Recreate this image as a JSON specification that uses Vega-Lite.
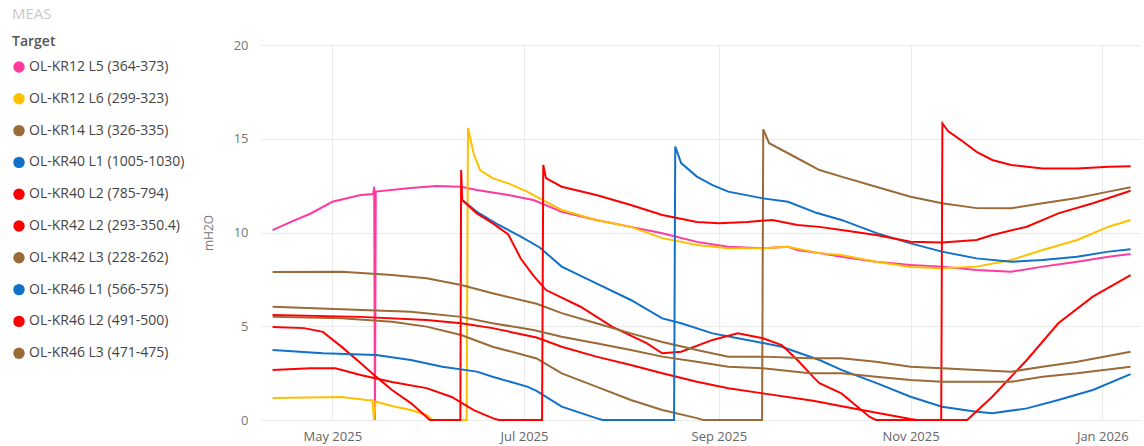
{
"$schema": "https://vega.github.io/schema/vega-lite/v6.json",
"width": 880, "height": 375,
"autosize": "none",
"padding": {"left": 260, "top": 45, "right": 4, "bottom": 26},
"background": "white",
"title": {"text": "MEAS", "anchor": "start", "frame": "group", "dx": -248, "offset": 13, "fontSize": 15, "fontWeight": "normal", "color": "#c8c8c8", "font": "Open Sans"},
"config": {"view": {"stroke": null}, "font": "Open Sans"},
"data": {"values": [
{"s":"OL-KR12 L5 (364-373)","t":"2025-04-12","v":10.13},
{"s":"OL-KR12 L5 (364-373)","t":"2025-04-18","v":10.58},
{"s":"OL-KR12 L5 (364-373)","t":"2025-04-24","v":11.0},
{"s":"OL-KR12 L5 (364-373)","t":"2025-05-01","v":11.64},
{"s":"OL-KR12 L5 (364-373)","t":"2025-05-10","v":12.0},
{"s":"OL-KR12 L5 (364-373)","t":"2025-05-14T00:00:00Z","v":12.05},
{"s":"OL-KR12 L5 (364-373)","t":"2025-05-14T08:00:00Z","v":12.44},
{"s":"OL-KR12 L5 (364-373)","t":"2025-05-14T14:00:00Z","v":0},
{"s":"OL-KR12 L5 (364-373)","t":"2025-05-14T20:00:00Z","v":12.18},
{"s":"OL-KR12 L5 (364-373)","t":"2025-05-26","v":12.37},
{"s":"OL-KR12 L5 (364-373)","t":"2025-06-03","v":12.48},
{"s":"OL-KR12 L5 (364-373)","t":"2025-06-11","v":12.44},
{"s":"OL-KR12 L5 (364-373)","t":"2025-06-16","v":12.27},
{"s":"OL-KR12 L5 (364-373)","t":"2025-06-26","v":12.0},
{"s":"OL-KR12 L5 (364-373)","t":"2025-07-04","v":11.73},
{"s":"OL-KR12 L5 (364-373)","t":"2025-07-13","v":11.1},
{"s":"OL-KR12 L5 (364-373)","t":"2025-07-24","v":10.67},
{"s":"OL-KR12 L5 (364-373)","t":"2025-08-04","v":10.3},
{"s":"OL-KR12 L5 (364-373)","t":"2025-08-14","v":9.96},
{"s":"OL-KR12 L5 (364-373)","t":"2025-08-25","v":9.5},
{"s":"OL-KR12 L5 (364-373)","t":"2025-09-04","v":9.24},
{"s":"OL-KR12 L5 (364-373)","t":"2025-09-15","v":9.16},
{"s":"OL-KR12 L5 (364-373)","t":"2025-09-23","v":9.24},
{"s":"OL-KR12 L5 (364-373)","t":"2025-09-26","v":9.07},
{"s":"OL-KR12 L5 (364-373)","t":"2025-10-03","v":8.9},
{"s":"OL-KR12 L5 (364-373)","t":"2025-10-10","v":8.71},
{"s":"OL-KR12 L5 (364-373)","t":"2025-10-21","v":8.44},
{"s":"OL-KR12 L5 (364-373)","t":"2025-11-01","v":8.27},
{"s":"OL-KR12 L5 (364-373)","t":"2025-11-11","v":8.18},
{"s":"OL-KR12 L5 (364-373)","t":"2025-11-22","v":8.0},
{"s":"OL-KR12 L5 (364-373)","t":"2025-12-03","v":7.91},
{"s":"OL-KR12 L5 (364-373)","t":"2025-12-13","v":8.18},
{"s":"OL-KR12 L5 (364-373)","t":"2025-12-24","v":8.44},
{"s":"OL-KR12 L5 (364-373)","t":"2026-01-03","v":8.71},
{"s":"OL-KR12 L5 (364-373)","t":"2026-01-10","v":8.85},

{"s":"OL-KR12 L6 (299-323)","t":"2025-04-12","v":1.17},
{"s":"OL-KR12 L6 (299-323)","t":"2025-05-04","v":1.23},
{"s":"OL-KR12 L6 (299-323)","t":"2025-05-12","v":1.07},
{"s":"OL-KR12 L6 (299-323)","t":"2025-05-13T18:00:00Z","v":1.05},
{"s":"OL-KR12 L6 (299-323)","t":"2025-05-14T08:00:00Z","v":0},
{"s":"OL-KR12 L6 (299-323)","t":"2025-05-14T18:00:00Z","v":0.98},
{"s":"OL-KR12 L6 (299-323)","t":"2025-05-20","v":0.75},
{"s":"OL-KR12 L6 (299-323)","t":"2025-05-26","v":0.53},
{"s":"OL-KR12 L6 (299-323)","t":"2025-05-31","v":0.27},
{"s":"OL-KR12 L6 (299-323)","t":"2025-06-02","v":0},
{"s":"OL-KR12 L6 (299-323)","t":"2025-06-12T18:00:00Z","v":0},
{"s":"OL-KR12 L6 (299-323)","t":"2025-06-13T04:00:00Z","v":15.57},
{"s":"OL-KR12 L6 (299-323)","t":"2025-06-15","v":14.2},
{"s":"OL-KR12 L6 (299-323)","t":"2025-06-17","v":13.33},
{"s":"OL-KR12 L6 (299-323)","t":"2025-06-21","v":12.9},
{"s":"OL-KR12 L6 (299-323)","t":"2025-06-26","v":12.62},
{"s":"OL-KR12 L6 (299-323)","t":"2025-07-02","v":12.18},
{"s":"OL-KR12 L6 (299-323)","t":"2025-07-07","v":11.73},
{"s":"OL-KR12 L6 (299-323)","t":"2025-07-13","v":11.2},
{"s":"OL-KR12 L6 (299-323)","t":"2025-07-24","v":10.67},
{"s":"OL-KR12 L6 (299-323)","t":"2025-08-04","v":10.3},
{"s":"OL-KR12 L6 (299-323)","t":"2025-08-14","v":9.7},
{"s":"OL-KR12 L6 (299-323)","t":"2025-08-25","v":9.33},
{"s":"OL-KR12 L6 (299-323)","t":"2025-09-04","v":9.16},
{"s":"OL-KR12 L6 (299-323)","t":"2025-09-15","v":9.16},
{"s":"OL-KR12 L6 (299-323)","t":"2025-09-23","v":9.24},
{"s":"OL-KR12 L6 (299-323)","t":"2025-10-03","v":8.9},
{"s":"OL-KR12 L6 (299-323)","t":"2025-10-10","v":8.8},
{"s":"OL-KR12 L6 (299-323)","t":"2025-10-21","v":8.44},
{"s":"OL-KR12 L6 (299-323)","t":"2025-11-01","v":8.16},
{"s":"OL-KR12 L6 (299-323)","t":"2025-11-11","v":8.09},
{"s":"OL-KR12 L6 (299-323)","t":"2025-11-22","v":8.18},
{"s":"OL-KR12 L6 (299-323)","t":"2025-12-03","v":8.53},
{"s":"OL-KR12 L6 (299-323)","t":"2025-12-13","v":9.07},
{"s":"OL-KR12 L6 (299-323)","t":"2025-12-24","v":9.6},
{"s":"OL-KR12 L6 (299-323)","t":"2026-01-03","v":10.31},
{"s":"OL-KR12 L6 (299-323)","t":"2026-01-10","v":10.67},

{"s":"OL-KR14 L3 (326-335)","t":"2025-04-12","v":5.5},
{"s":"OL-KR14 L3 (326-335)","t":"2025-05-04","v":5.43},
{"s":"OL-KR14 L3 (326-335)","t":"2025-05-20","v":5.24},
{"s":"OL-KR14 L3 (326-335)","t":"2025-05-31","v":4.98},
{"s":"OL-KR14 L3 (326-335)","t":"2025-06-11","v":4.53},
{"s":"OL-KR14 L3 (326-335)","t":"2025-06-21","v":3.91},
{"s":"OL-KR14 L3 (326-335)","t":"2025-07-05","v":3.28},
{"s":"OL-KR14 L3 (326-335)","t":"2025-07-13","v":2.49},
{"s":"OL-KR14 L3 (326-335)","t":"2025-07-24","v":1.78},
{"s":"OL-KR14 L3 (326-335)","t":"2025-08-04","v":1.07},
{"s":"OL-KR14 L3 (326-335)","t":"2025-08-14","v":0.53},
{"s":"OL-KR14 L3 (326-335)","t":"2025-08-25","v":0.1},
{"s":"OL-KR14 L3 (326-335)","t":"2025-08-27","v":0},
{"s":"OL-KR14 L3 (326-335)","t":"2025-09-14T18:00:00Z","v":0},
{"s":"OL-KR14 L3 (326-335)","t":"2025-09-15T03:00:00Z","v":15.5},
{"s":"OL-KR14 L3 (326-335)","t":"2025-09-17","v":14.76},
{"s":"OL-KR14 L3 (326-335)","t":"2025-09-26","v":13.96},
{"s":"OL-KR14 L3 (326-335)","t":"2025-10-03","v":13.33},
{"s":"OL-KR14 L3 (326-335)","t":"2025-10-10","v":12.98},
{"s":"OL-KR14 L3 (326-335)","t":"2025-10-21","v":12.44},
{"s":"OL-KR14 L3 (326-335)","t":"2025-11-01","v":11.91},
{"s":"OL-KR14 L3 (326-335)","t":"2025-11-11","v":11.56},
{"s":"OL-KR14 L3 (326-335)","t":"2025-11-22","v":11.3},
{"s":"OL-KR14 L3 (326-335)","t":"2025-12-03","v":11.29},
{"s":"OL-KR14 L3 (326-335)","t":"2025-12-13","v":11.56},
{"s":"OL-KR14 L3 (326-335)","t":"2025-12-24","v":11.84},
{"s":"OL-KR14 L3 (326-335)","t":"2026-01-03","v":12.18},
{"s":"OL-KR14 L3 (326-335)","t":"2026-01-10","v":12.41},

{"s":"OL-KR40 L1 (1005-1030)","t":"2025-06-11T08:00:00Z","v":11.73},
{"s":"OL-KR40 L1 (1005-1030)","t":"2025-06-16","v":11.1},
{"s":"OL-KR40 L1 (1005-1030)","t":"2025-06-23","v":10.4},
{"s":"OL-KR40 L1 (1005-1030)","t":"2025-06-30","v":9.78},
{"s":"OL-KR40 L1 (1005-1030)","t":"2025-07-06","v":9.2},
{"s":"OL-KR40 L1 (1005-1030)","t":"2025-07-13","v":8.18},
{"s":"OL-KR40 L1 (1005-1030)","t":"2025-07-24","v":7.29},
{"s":"OL-KR40 L1 (1005-1030)","t":"2025-08-04","v":6.4},
{"s":"OL-KR40 L1 (1005-1030)","t":"2025-08-14","v":5.42},
{"s":"OL-KR40 L1 (1005-1030)","t":"2025-08-20","v":5.16},
{"s":"OL-KR40 L1 (1005-1030)","t":"2025-08-30","v":4.62},
{"s":"OL-KR40 L1 (1005-1030)","t":"2025-09-10","v":4.27},
{"s":"OL-KR40 L1 (1005-1030)","t":"2025-09-21","v":3.91},
{"s":"OL-KR40 L1 (1005-1030)","t":"2025-10-03","v":3.2},
{"s":"OL-KR40 L1 (1005-1030)","t":"2025-10-10","v":2.67},
{"s":"OL-KR40 L1 (1005-1030)","t":"2025-10-21","v":1.98},
{"s":"OL-KR40 L1 (1005-1030)","t":"2025-11-01","v":1.24},
{"s":"OL-KR40 L1 (1005-1030)","t":"2025-11-11","v":0.71},
{"s":"OL-KR40 L1 (1005-1030)","t":"2025-11-22","v":0.44},
{"s":"OL-KR40 L1 (1005-1030)","t":"2025-11-27","v":0.36},
{"s":"OL-KR40 L1 (1005-1030)","t":"2025-12-08","v":0.62},
{"s":"OL-KR40 L1 (1005-1030)","t":"2025-12-18","v":1.07},
{"s":"OL-KR40 L1 (1005-1030)","t":"2025-12-29","v":1.6},
{"s":"OL-KR40 L1 (1005-1030)","t":"2026-01-10","v":2.45},

{"s":"OL-KR40 L2 (785-794)","t":"2025-04-12","v":5.6},
{"s":"OL-KR40 L2 (785-794)","t":"2025-05-10","v":5.5},
{"s":"OL-KR40 L2 (785-794)","t":"2025-05-31","v":5.33},
{"s":"OL-KR40 L2 (785-794)","t":"2025-06-11","v":5.16},
{"s":"OL-KR40 L2 (785-794)","t":"2025-06-21","v":4.9},
{"s":"OL-KR40 L2 (785-794)","t":"2025-07-05","v":4.4},
{"s":"OL-KR40 L2 (785-794)","t":"2025-07-13","v":3.91},
{"s":"OL-KR40 L2 (785-794)","t":"2025-07-24","v":3.38},
{"s":"OL-KR40 L2 (785-794)","t":"2025-08-04","v":2.93},
{"s":"OL-KR40 L2 (785-794)","t":"2025-08-14","v":2.49},
{"s":"OL-KR40 L2 (785-794)","t":"2025-08-25","v":2.04},
{"s":"OL-KR40 L2 (785-794)","t":"2025-09-04","v":1.69},
{"s":"OL-KR40 L2 (785-794)","t":"2025-09-15","v":1.42},
{"s":"OL-KR40 L2 (785-794)","t":"2025-10-01","v":1.03},
{"s":"OL-KR40 L2 (785-794)","t":"2025-10-16","v":0.55},
{"s":"OL-KR40 L2 (785-794)","t":"2025-11-01","v":0.05},
{"s":"OL-KR40 L2 (785-794)","t":"2025-11-03","v":0},
{"s":"OL-KR40 L2 (785-794)","t":"2025-11-10T18:00:00Z","v":0},
{"s":"OL-KR40 L2 (785-794)","t":"2025-11-11T03:00:00Z","v":15.82},
{"s":"OL-KR40 L2 (785-794)","t":"2025-11-13","v":15.4},
{"s":"OL-KR40 L2 (785-794)","t":"2025-11-17","v":14.93},
{"s":"OL-KR40 L2 (785-794)","t":"2025-11-22","v":14.3},
{"s":"OL-KR40 L2 (785-794)","t":"2025-11-27","v":13.87},
{"s":"OL-KR40 L2 (785-794)","t":"2025-12-03","v":13.6},
{"s":"OL-KR40 L2 (785-794)","t":"2025-12-13","v":13.42},
{"s":"OL-KR40 L2 (785-794)","t":"2025-12-24","v":13.42},
{"s":"OL-KR40 L2 (785-794)","t":"2026-01-03","v":13.51},
{"s":"OL-KR40 L2 (785-794)","t":"2026-01-10","v":13.53},

{"s":"OL-KR42 L2 (293-350.4)","t":"2025-04-12","v":4.96},
{"s":"OL-KR42 L2 (293-350.4)","t":"2025-04-22","v":4.9},
{"s":"OL-KR42 L2 (293-350.4)","t":"2025-04-28","v":4.7},
{"s":"OL-KR42 L2 (293-350.4)","t":"2025-05-04","v":3.9},
{"s":"OL-KR42 L2 (293-350.4)","t":"2025-05-10","v":3.04},
{"s":"OL-KR42 L2 (293-350.4)","t":"2025-05-15","v":2.3},
{"s":"OL-KR42 L2 (293-350.4)","t":"2025-05-20","v":1.6},
{"s":"OL-KR42 L2 (293-350.4)","t":"2025-05-26","v":0.9},
{"s":"OL-KR42 L2 (293-350.4)","t":"2025-05-31","v":0.16},
{"s":"OL-KR42 L2 (293-350.4)","t":"2025-06-01","v":0},
{"s":"OL-KR42 L2 (293-350.4)","t":"2025-06-10T18:00:00Z","v":0},
{"s":"OL-KR42 L2 (293-350.4)","t":"2025-06-11T00:00:00Z","v":13.33},
{"s":"OL-KR42 L2 (293-350.4)","t":"2025-06-11T08:00:00Z","v":11.73},
{"s":"OL-KR42 L2 (293-350.4)","t":"2025-06-16","v":11.02},
{"s":"OL-KR42 L2 (293-350.4)","t":"2025-06-21","v":10.5},
{"s":"OL-KR42 L2 (293-350.4)","t":"2025-06-26","v":9.9},
{"s":"OL-KR42 L2 (293-350.4)","t":"2025-06-30","v":8.6},
{"s":"OL-KR42 L2 (293-350.4)","t":"2025-07-04","v":7.7},
{"s":"OL-KR42 L2 (293-350.4)","t":"2025-07-08","v":6.93},
{"s":"OL-KR42 L2 (293-350.4)","t":"2025-07-19","v":6.04},
{"s":"OL-KR42 L2 (293-350.4)","t":"2025-07-29","v":4.98},
{"s":"OL-KR42 L2 (293-350.4)","t":"2025-08-09","v":4.1},
{"s":"OL-KR42 L2 (293-350.4)","t":"2025-08-14","v":3.56},
{"s":"OL-KR42 L2 (293-350.4)","t":"2025-08-20","v":3.64},
{"s":"OL-KR42 L2 (293-350.4)","t":"2025-08-30","v":4.27},
{"s":"OL-KR42 L2 (293-350.4)","t":"2025-09-07","v":4.62},
{"s":"OL-KR42 L2 (293-350.4)","t":"2025-09-15","v":4.36},
{"s":"OL-KR42 L2 (293-350.4)","t":"2025-09-21","v":4.0},
{"s":"OL-KR42 L2 (293-350.4)","t":"2025-09-26","v":3.2},
{"s":"OL-KR42 L2 (293-350.4)","t":"2025-10-01","v":2.3},
{"s":"OL-KR42 L2 (293-350.4)","t":"2025-10-03","v":1.96},
{"s":"OL-KR42 L2 (293-350.4)","t":"2025-10-10","v":1.42},
{"s":"OL-KR42 L2 (293-350.4)","t":"2025-10-19","v":0.16},
{"s":"OL-KR42 L2 (293-350.4)","t":"2025-10-21","v":0},
{"s":"OL-KR42 L2 (293-350.4)","t":"2025-11-19","v":0},
{"s":"OL-KR42 L2 (293-350.4)","t":"2025-11-27","v":1.24},
{"s":"OL-KR42 L2 (293-350.4)","t":"2025-12-08","v":3.2},
{"s":"OL-KR42 L2 (293-350.4)","t":"2025-12-18","v":5.16},
{"s":"OL-KR42 L2 (293-350.4)","t":"2025-12-29","v":6.58},
{"s":"OL-KR42 L2 (293-350.4)","t":"2026-01-10","v":7.73},

{"s":"OL-KR42 L3 (228-262)","t":"2025-04-12","v":7.89},
{"s":"OL-KR42 L3 (228-262)","t":"2025-05-04","v":7.91},
{"s":"OL-KR42 L3 (228-262)","t":"2025-05-20","v":7.73},
{"s":"OL-KR42 L3 (228-262)","t":"2025-05-31","v":7.56},
{"s":"OL-KR42 L3 (228-262)","t":"2025-06-11","v":7.2},
{"s":"OL-KR42 L3 (228-262)","t":"2025-06-21","v":6.76},
{"s":"OL-KR42 L3 (228-262)","t":"2025-07-05","v":6.2},
{"s":"OL-KR42 L3 (228-262)","t":"2025-07-13","v":5.7},
{"s":"OL-KR42 L3 (228-262)","t":"2025-07-24","v":5.16},
{"s":"OL-KR42 L3 (228-262)","t":"2025-08-04","v":4.62},
{"s":"OL-KR42 L3 (228-262)","t":"2025-08-14","v":4.16},
{"s":"OL-KR42 L3 (228-262)","t":"2025-08-25","v":3.73},
{"s":"OL-KR42 L3 (228-262)","t":"2025-09-04","v":3.38},
{"s":"OL-KR42 L3 (228-262)","t":"2025-09-15","v":3.38},
{"s":"OL-KR42 L3 (228-262)","t":"2025-09-30","v":3.29},
{"s":"OL-KR42 L3 (228-262)","t":"2025-10-10","v":3.29},
{"s":"OL-KR42 L3 (228-262)","t":"2025-10-21","v":3.11},
{"s":"OL-KR42 L3 (228-262)","t":"2025-11-01","v":2.84},
{"s":"OL-KR42 L3 (228-262)","t":"2025-11-11","v":2.76},
{"s":"OL-KR42 L3 (228-262)","t":"2025-11-22","v":2.67},
{"s":"OL-KR42 L3 (228-262)","t":"2025-12-03","v":2.58},
{"s":"OL-KR42 L3 (228-262)","t":"2025-12-13","v":2.84},
{"s":"OL-KR42 L3 (228-262)","t":"2025-12-24","v":3.11},
{"s":"OL-KR42 L3 (228-262)","t":"2026-01-10","v":3.64},

{"s":"OL-KR46 L1 (566-575)","t":"2025-04-12","v":3.73},
{"s":"OL-KR46 L1 (566-575)","t":"2025-04-28","v":3.56},
{"s":"OL-KR46 L1 (566-575)","t":"2025-05-15","v":3.47},
{"s":"OL-KR46 L1 (566-575)","t":"2025-05-26","v":3.2},
{"s":"OL-KR46 L1 (566-575)","t":"2025-06-05","v":2.84},
{"s":"OL-KR46 L1 (566-575)","t":"2025-06-16","v":2.58},
{"s":"OL-KR46 L1 (566-575)","t":"2025-06-21","v":2.31},
{"s":"OL-KR46 L1 (566-575)","t":"2025-07-02","v":1.78},
{"s":"OL-KR46 L1 (566-575)","t":"2025-07-05","v":1.55},
{"s":"OL-KR46 L1 (566-575)","t":"2025-07-13","v":0.71},
{"s":"OL-KR46 L1 (566-575)","t":"2025-07-24","v":0.1},
{"s":"OL-KR46 L1 (566-575)","t":"2025-07-26","v":0},
{"s":"OL-KR46 L1 (566-575)","t":"2025-08-17T18:00:00Z","v":0},
{"s":"OL-KR46 L1 (566-575)","t":"2025-08-18T03:00:00Z","v":14.58},
{"s":"OL-KR46 L1 (566-575)","t":"2025-08-20","v":13.7},
{"s":"OL-KR46 L1 (566-575)","t":"2025-08-25","v":12.98},
{"s":"OL-KR46 L1 (566-575)","t":"2025-08-30","v":12.53},
{"s":"OL-KR46 L1 (566-575)","t":"2025-09-04","v":12.18},
{"s":"OL-KR46 L1 (566-575)","t":"2025-09-15","v":11.82},
{"s":"OL-KR46 L1 (566-575)","t":"2025-09-23","v":11.64},
{"s":"OL-KR46 L1 (566-575)","t":"2025-10-02","v":11.05},
{"s":"OL-KR46 L1 (566-575)","t":"2025-10-10","v":10.67},
{"s":"OL-KR46 L1 (566-575)","t":"2025-10-21","v":9.98},
{"s":"OL-KR46 L1 (566-575)","t":"2025-11-01","v":9.42},
{"s":"OL-KR46 L1 (566-575)","t":"2025-11-11","v":8.98},
{"s":"OL-KR46 L1 (566-575)","t":"2025-11-22","v":8.62},
{"s":"OL-KR46 L1 (566-575)","t":"2025-12-03","v":8.44},
{"s":"OL-KR46 L1 (566-575)","t":"2025-12-13","v":8.53},
{"s":"OL-KR46 L1 (566-575)","t":"2025-12-24","v":8.71},
{"s":"OL-KR46 L1 (566-575)","t":"2026-01-03","v":8.98},
{"s":"OL-KR46 L1 (566-575)","t":"2026-01-10","v":9.11},

{"s":"OL-KR46 L2 (491-500)","t":"2025-04-12","v":2.67},
{"s":"OL-KR46 L2 (491-500)","t":"2025-04-24","v":2.76},
{"s":"OL-KR46 L2 (491-500)","t":"2025-05-02","v":2.76},
{"s":"OL-KR46 L2 (491-500)","t":"2025-05-10","v":2.4},
{"s":"OL-KR46 L2 (491-500)","t":"2025-05-20","v":2.03},
{"s":"OL-KR46 L2 (491-500)","t":"2025-05-31","v":1.7},
{"s":"OL-KR46 L2 (491-500)","t":"2025-06-08","v":1.23},
{"s":"OL-KR46 L2 (491-500)","t":"2025-06-15","v":0.53},
{"s":"OL-KR46 L2 (491-500)","t":"2025-06-21","v":0.1},
{"s":"OL-KR46 L2 (491-500)","t":"2025-06-23","v":0},
{"s":"OL-KR46 L2 (491-500)","t":"2025-07-06T18:00:00Z","v":0},
{"s":"OL-KR46 L2 (491-500)","t":"2025-07-07T03:00:00Z","v":13.6},
{"s":"OL-KR46 L2 (491-500)","t":"2025-07-08","v":12.9},
{"s":"OL-KR46 L2 (491-500)","t":"2025-07-13","v":12.44},
{"s":"OL-KR46 L2 (491-500)","t":"2025-07-24","v":12.0},
{"s":"OL-KR46 L2 (491-500)","t":"2025-08-04","v":11.47},
{"s":"OL-KR46 L2 (491-500)","t":"2025-08-14","v":10.93},
{"s":"OL-KR46 L2 (491-500)","t":"2025-08-25","v":10.56},
{"s":"OL-KR46 L2 (491-500)","t":"2025-09-01","v":10.5},
{"s":"OL-KR46 L2 (491-500)","t":"2025-09-10","v":10.56},
{"s":"OL-KR46 L2 (491-500)","t":"2025-09-18","v":10.67},
{"s":"OL-KR46 L2 (491-500)","t":"2025-09-26","v":10.4},
{"s":"OL-KR46 L2 (491-500)","t":"2025-10-03","v":10.3},
{"s":"OL-KR46 L2 (491-500)","t":"2025-10-10","v":10.13},
{"s":"OL-KR46 L2 (491-500)","t":"2025-10-21","v":9.87},
{"s":"OL-KR46 L2 (491-500)","t":"2025-11-01","v":9.51},
{"s":"OL-KR46 L2 (491-500)","t":"2025-11-11","v":9.47},
{"s":"OL-KR46 L2 (491-500)","t":"2025-11-22","v":9.6},
{"s":"OL-KR46 L2 (491-500)","t":"2025-11-27","v":9.87},
{"s":"OL-KR46 L2 (491-500)","t":"2025-12-08","v":10.31},
{"s":"OL-KR46 L2 (491-500)","t":"2025-12-18","v":11.02},
{"s":"OL-KR46 L2 (491-500)","t":"2025-12-29","v":11.56},
{"s":"OL-KR46 L2 (491-500)","t":"2026-01-10","v":12.23},

{"s":"OL-KR46 L3 (471-475)","t":"2025-04-12","v":6.04},
{"s":"OL-KR46 L3 (471-475)","t":"2025-05-04","v":5.91},
{"s":"OL-KR46 L3 (471-475)","t":"2025-05-26","v":5.77},
{"s":"OL-KR46 L3 (471-475)","t":"2025-06-11","v":5.5},
{"s":"OL-KR46 L3 (471-475)","t":"2025-06-21","v":5.16},
{"s":"OL-KR46 L3 (471-475)","t":"2025-07-04","v":4.8},
{"s":"OL-KR46 L3 (471-475)","t":"2025-07-13","v":4.44},
{"s":"OL-KR46 L3 (471-475)","t":"2025-07-24","v":4.09},
{"s":"OL-KR46 L3 (471-475)","t":"2025-08-04","v":3.73},
{"s":"OL-KR46 L3 (471-475)","t":"2025-08-14","v":3.38},
{"s":"OL-KR46 L3 (471-475)","t":"2025-08-25","v":3.11},
{"s":"OL-KR46 L3 (471-475)","t":"2025-09-04","v":2.84},
{"s":"OL-KR46 L3 (471-475)","t":"2025-09-15","v":2.76},
{"s":"OL-KR46 L3 (471-475)","t":"2025-09-30","v":2.49},
{"s":"OL-KR46 L3 (471-475)","t":"2025-10-10","v":2.49},
{"s":"OL-KR46 L3 (471-475)","t":"2025-10-21","v":2.31},
{"s":"OL-KR46 L3 (471-475)","t":"2025-11-01","v":2.13},
{"s":"OL-KR46 L3 (471-475)","t":"2025-11-11","v":2.04},
{"s":"OL-KR46 L3 (471-475)","t":"2025-11-22","v":2.04},
{"s":"OL-KR46 L3 (471-475)","t":"2025-12-03","v":2.04},
{"s":"OL-KR46 L3 (471-475)","t":"2025-12-13","v":2.31},
{"s":"OL-KR46 L3 (471-475)","t":"2025-12-24","v":2.49},
{"s":"OL-KR46 L3 (471-475)","t":"2026-01-10","v":2.84}
]},
"mark": {"type": "line", "strokeWidth": 2, "interpolate": "linear"},
"encoding": {
  "x": {"field": "t", "type": "temporal",
    "scale": {"type": "utc", "domain": [{"year": 2025, "month": 4, "date": 8, "utc": true}, {"year": 2026, "month": 1, "date": 13, "utc": true}]},
    "axis": {"title": null, "format": "%b %Y", "values": [
      {"year": 2025, "month": 5, "date": 1, "utc": true},
      {"year": 2025, "month": 7, "date": 1, "utc": true},
      {"year": 2025, "month": 9, "date": 1, "utc": true},
      {"year": 2025, "month": 11, "date": 1, "utc": true},
      {"year": 2026, "month": 1, "date": 1, "utc": true}],
      "domain": false, "ticks": false, "grid": true, "gridColor": "#eaeaea", "gridWidth": 1,
      "labelColor": "#666666", "labelFontSize": 13, "labelPadding": 10, "labelFont": "Open Sans"}},
  "y": {"field": "v", "type": "quantitative",
    "scale": {"domain": [0, 20], "nice": false, "zero": true},
    "axis": {"values": [0, 5, 10, 15, 20], "title": "mH2O", "domain": false, "ticks": false, "grid": true,
      "gridColor": "#eaeaea", "labelColor": "#777777", "labelFontSize": 13, "labelPadding": 12, "labelFont": "Open Sans",
      "titleFontSize": 12, "titleFontWeight": "normal", "titleColor": "#777777", "titlePadding": 18, "titleFont": "Open Sans"}},
  "color": {"field": "s", "type": "nominal",
    "scale": {"domain": ["OL-KR12 L5 (364-373)", "OL-KR12 L6 (299-323)", "OL-KR14 L3 (326-335)", "OL-KR40 L1 (1005-1030)", "OL-KR40 L2 (785-794)", "OL-KR42 L2 (293-350.4)", "OL-KR42 L3 (228-262)", "OL-KR46 L1 (566-575)", "OL-KR46 L2 (491-500)", "OL-KR46 L3 (471-475)"],
      "range": ["#FF3A9F", "#FFC000", "#9A6A37", "#1170C8", "#FF0000", "#FF0000", "#9A6A37", "#1170C8", "#FF0000", "#9A6A37"]},
    "legend": {"orient": "none", "legendX": -248, "legendY": -10, "title": "Target", "titleFontSize": 14, "titleFontWeight": 600,
      "titleColor": "#555555", "titlePadding": 11, "titleFont": "Open Sans", "labelFontSize": 14, "labelColor": "#444444", "labelFont": "Open Sans",
      "symbolType": "circle", "symbolSize": 130, "symbolStrokeWidth": 0, "rowPadding": 17.8, "labelOffset": 3, "padding": 0, "labelLimit": 300,
      "encode": {"symbols": {"update": {"fill": {"scale": "color", "field": "value"}, "fillOpacity": {"value": 1}, "strokeWidth": {"value": 0}}}}}}
}
}
